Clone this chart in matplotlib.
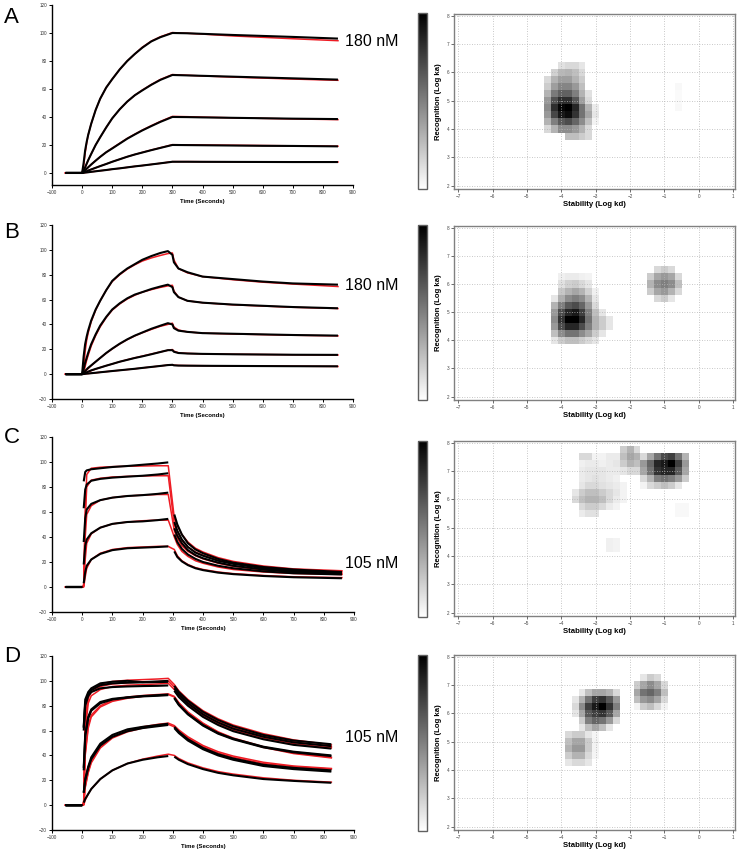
import numpy as np
import matplotlib
matplotlib.use("Agg")
import matplotlib.pyplot as plt

plt.rcParams['font.family'] = ['Liberation Sans', 'DejaVu Sans']

# ---------------- sensorgram data (response units vs time in s) ----------------
# None = gap in the recorded trace
TA = [-55, 0, 5, 10, 15, 20, 30, 45, 60, 80, 100, 125, 150, 175, 200, 230, 260, 300,
      350, 400, 500, 600, 700, 850]
A_DATA = [
    [0, 0, 7, 16, 22, 27, 35, 45, 53, 61, 67, 74, 80, 85, 89.5, 94, 97, 100, 99.8, 99.4, 98.6, 97.9, 97.2, 96],
    [0, 0, 1.5, 4, 6.5, 9, 13.5, 20, 25.5, 32.5, 39, 45.5, 51, 55.5, 59, 63, 66.5, 70, 69.7, 69.4, 68.8, 68.2, 67.6, 66.7],
    [0, 0, 0.8, 2, 3, 4, 6, 8.8, 11.5, 14.8, 17.5, 21, 24.5, 27.5, 30.4, 33.5, 36.5, 40, 39.9, 39.7, 39.4, 39.1, 38.8, 38.5],
    [0, 0, 0.4, 0.8, 1.2, 1.7, 2.5, 3.7, 4.9, 6.4, 8, 9.8, 11.6, 13.2, 14.6, 16.3, 17.9, 20, 19.9, 19.8, 19.6, 19.4, 19.3, 19],
    [0, 0, 0.13, 0.27, 0.4, 0.5, 0.8, 1.2, 1.6, 2.1, 2.7, 3.3, 4, 4.7, 5.3, 6.1, 6.9, 8, 8, 7.95, 7.9, 7.85, 7.8, 7.8],
]
A_FIT = [
    [0, 0, 5, 14, 21, 27, 35, 45, 53, 61, 67, 74, 80, 85, 89.8, 94.2, 97.3, 100.3, 99.8, 99.2, 97.9, 96.9, 95.9, 94.5],
    [0, 0, 1.5, 4, 6.5, 9, 13.5, 20, 25.5, 32.5, 39, 45.5, 51, 55.5, 59.2, 63.2, 66.8, 70.3, 69.8, 69.3, 68.5, 67.8, 67.1, 66.2],
    [0, 0, 0.8, 2, 3, 4, 6, 8.8, 11.5, 14.8, 17.7, 21.2, 24.7, 27.7, 30.6, 33.8, 36.8, 40.4, 40.2, 39.9, 39.4, 39, 38.6, 38.1],
    [0, 0, 0.4, 0.8, 1.2, 1.7, 2.5, 3.7, 4.9, 6.4, 8, 9.8, 11.6, 13.2, 14.7, 16.4, 18, 20.2, 20.1, 20, 19.8, 19.6, 19.4, 19.1],
    [0, 0, 0.13, 0.27, 0.4, 0.5, 0.8, 1.2, 1.6, 2.1, 2.7, 3.3, 4, 4.7, 5.3, 6.1, 6.9, 8.1, 8.1, 8.05, 8, 7.95, 7.9, 7.85],
]

TB = [-55, 0, 5, 10, 15, 20, 30, 45, 60, 80, 100, 125, 150, 175, 200, 230, 260, 285, 300,
      305, 320, 350, 400, 500, 600, 700, 850]
B_DATA = [
    [0, 0, 14, 24, 30, 35, 43, 52, 59, 67.5, 75, 80.5, 85, 88.5, 92, 95, 97.5, 99, 96, 90, 85, 82, 78.5, 76.5, 74.5, 73, 72],
    [0, 0, 4, 9, 13, 17, 24, 32, 39, 46, 52, 57, 61, 64, 66, 68.5, 70.5, 72, 70, 66, 62, 59, 57.5, 56, 55, 54, 53],
    [0, 0, 1, 2.5, 3.8, 5, 7, 10, 13, 17, 20.5, 24.5, 28, 31, 33.5, 36.5, 39, 41, 40, 37, 35, 34, 33, 32.5, 32, 31.5, 31],
    [0, 0, 0.5, 1, 1.5, 2, 3, 4.2, 5.3, 6.8, 8.2, 10, 11.5, 13, 14.3, 16, 17.8, 19.3, 19.3, 18, 17, 16.6, 16.3, 16, 15.8, 15.6, 15.5],
    [0, 0, 0.1, 0.25, 0.4, 0.5, 0.75, 1.1, 1.5, 2, 2.5, 3.1, 3.7, 4.3, 5, 5.8, 6.6, 7.3, 7.5, 7.1, 6.9, 6.8, 6.7, 6.6, 6.5, 6.4, 6.3],
]
B_FIT = [
    [0, 0, 2, 18, 27, 33, 42, 51.5, 59, 67.5, 74.5, 80, 84.5, 88, 91, 93.5, 95.5, 97, 97.5, 92, 85, 81.5, 78.5, 76, 74, 72.5, 70.5],
    [0, 0, 1, 6, 11, 15, 22.5, 31, 38, 45.5, 51.5, 56.5, 60.5, 63.5, 66, 68, 69.8, 71, 71.5, 67, 62, 59, 57.5, 55.8, 54.8, 53.8, 52.8],
    [0, 0, 0.5, 2, 3.3, 4.5, 6.8, 10, 13, 16.8, 20.3, 24.3, 27.8, 30.8, 33.3, 36, 38.5, 40, 41, 38, 35.5, 34, 33, 32.3, 31.8, 31.3, 30.8],
    [0, 0, 0.3, 0.8, 1.3, 1.8, 2.8, 4.1, 5.3, 6.8, 8.2, 10, 11.6, 13.1, 14.5, 16.2, 17.9, 19.2, 19.8, 18.5, 17.2, 16.7, 16.3, 16, 15.8, 15.6, 15.4],
    [0, 0, 0.1, 0.25, 0.4, 0.5, 0.75, 1.1, 1.5, 2, 2.5, 3.1, 3.7, 4.3, 5, 5.8, 6.6, 7.3, 7.6, 7.2, 7, 6.9, 6.8, 6.6, 6.5, 6.4, 6.2],
]

TC = [-55, 0, 2, 5, 10, 15, 30, 60, 100, 150, 200, 250, 285, 295, 305, 315, 330, 350, 375,
      400, 450, 500, 600, 700, 860]
C_DATA = [
    [0, 0, None, 84.5, 92, 93.3, 94.2, 95, 96, 96.8, 97.8, 98.8, 99.7, None, 58, 50, 42, 35, 30, 27, 22.5, 19.5, 16, 14, 12],
    [0, 0, None, 63, 78, 82, 85, 86.5, 87.5, 88.3, 89, 90, 91, None, 52, 45, 38, 32, 27.5, 25, 21, 18.5, 15, 13, 11.5],
    [0, 0, None, 36, 55, 62, 66.5, 69.5, 71.5, 72.8, 73.5, 74.5, 75.5, None, 47, 41, 35, 29.5, 25.5, 23, 19.5, 17, 14, 12, 10.5],
    [0, 0, None, 18, 33, 38, 43, 47.5, 50.5, 52, 52.5, 53.5, 54.5, None, 42, 36, 30.5, 26, 22.5, 20, 17, 15, 12.5, 11, 10],
    [0, 0, None, 3, 12, 17, 22, 26.5, 29.5, 31, 31.5, 32, 32.5, None, 28.5, 24, 20.5, 17.5, 15, 13.5, 11.5, 10.3, 8.8, 7.8, 7],
]
C_FIT = [
    [0, 0, 0, 2, 60, 90, 95, 95.8, 96.3, 96.6, 96.8, 97, 97, 76, 55, 49, 42, 36, 31, 28, 23.5, 20.5, 16.8, 14.5, 13],
    [0, 0, 0, 2, 55, 80, 85.5, 87, 88, 88.5, 88.8, 89, 89, 69.5, 50, 44, 37.5, 32, 28, 25.5, 21.5, 19, 15.5, 13.5, 12],
    [0, 0, 0, 1, 40, 58, 65, 69.5, 71.5, 72.8, 73.5, 74, 74, 59.5, 45, 39, 33, 28.5, 25, 22.5, 19, 16.5, 13.5, 12, 10.5],
    [0, 0, 0, 0.5, 22, 35, 42.5, 47.5, 50.5, 52, 53, 53.5, 53.5, 46.8, 40, 34, 28.5, 24.5, 21, 19, 16, 14, 12, 10.8, 10],
    [0, 0, 0, 0, 8, 15, 22, 27, 30, 31.5, 32, 32.5, 32.5, 31.2, 30, 25, 21, 18, 15.5, 14, 12, 10.7, 9.2, 8.2, 7.5],
]

TD = [-55, 0, 2, 5, 10, 20, 30, 60, 100, 150, 200, 250, 285, 295, 305, 320, 350, 400, 450,
      500, 600, 700, 825]
D_DATA = [
    [0, 0, None, 63, 85, 91, 94, 98, 99.3, 100, 99, 99.5, 100, None, 96, 91, 84, 75, 68.5, 63.5, 56.5, 52, 49],
    [0, 0, None, 62, 82, 89, 92.5, 96.5, 98, 98.5, 98.8, 99, 99.2, None, 94, 89, 82, 73, 66.5, 61.5, 55, 50.5, 47.5],
    [0, 0, None, 60, 80, 88, 91, 94, 95, 95.5, 95.8, 96, 96.3, None, 92, 87, 80, 71, 64.5, 59.5, 53, 48.5, 45.5],
    [0, 0, None, 28, 55, 70, 76, 82, 85, 86.5, 87.5, 88, 88.5, None, 86, 80.5, 73, 64, 57.5, 53, 46.5, 42.5, 39.5],
    [0, 0, None, 30, 57, 71, 77, 83, 85.5, 86.8, 87.8, 88.5, 89, None, 86.5, 81, 73.5, 64.5, 58, 53.5, 47, 43, 40],
    [0, 0, None, 10, 20, 30, 37, 48, 55, 59.5, 62, 63.5, 64.5, None, 62, 58, 52, 45, 40, 36.5, 31.5, 29, 27],
    [0, 0, None, 10, 21, 31, 38.5, 49.5, 56.5, 61, 63, 64.5, 65.5, None, 63, 59, 53, 46, 41, 37.5, 32.5, 30, 28],
    [0, 0, None, 2, 5, 9, 13, 21, 28, 33.5, 36.5, 38.5, 39.5, None, 39, 36.5, 33, 29, 26, 24, 21, 19.5, 18],
]
D_FIT = [
    [0, 0, 0, 3, 68, 88, 93, 97.5, 99.5, 100.5, 101, 101.5, 102, 99.5, 97, 92, 85, 76, 69.5, 64.5, 57.5, 52.5, 48.5],
    [0, 0, 0, 3, 65, 86, 91, 95.5, 97.5, 98.5, 99, 99.5, 100, 97.5, 95, 90, 83, 74, 67.5, 62.5, 55.5, 51, 47],
    [0, 0, 0, 2, 60, 82, 88, 93, 95.5, 96.5, 97, 97.5, 98, 95.5, 93, 88, 81, 72, 65.5, 60.5, 54, 49.5, 46],
    [0, 0, 0, 1, 40, 62, 71, 79, 83.5, 86, 87.5, 88.5, 89, 88, 87, 82, 74.5, 65.5, 58.5, 53.5, 46.5, 41.5, 38],
    [0, 0, 0, 1, 42, 64, 72.5, 80, 84.5, 87, 88.2, 89, 89.5, 88.5, 87.5, 82.5, 75, 66, 59, 54, 47, 42, 38.5],
    [0, 0, 0, 0.5, 14, 26, 34, 46, 54, 59, 62, 64, 65, 64, 63, 59.5, 54, 47, 42, 38.5, 33.5, 31, 29],
    [0, 0, 0, 0.5, 15, 27, 35, 47, 55, 60, 63, 65, 66, 65, 64, 60.5, 55, 48, 43, 39.5, 34.5, 31.5, 29.5],
    [0, 0, 0, 0, 4, 9, 13, 21, 28, 33.5, 37, 39.5, 41, 40.5, 40, 37.5, 34, 30, 27, 25, 22, 20, 18.5],
]

CONC_LABELS = ['180 nM', '180 nM', '105 nM', '105 nM']
PANEL_LETTERS = ['A', 'B', 'C', 'D']

# ---------------- kinetic maps: (left col log kd, top row log ka, rows of intensity) ----------------
MAP_A = [
    (-4.4, 6.25, [[0, 0, 0.12, 0.15, 0.15, 0.1, 0, 0],
                  [0, 0.18, 0.28, 0.3, 0.25, 0.15, 0, 0],
                  [0.15, 0.3, 0.38, 0.38, 0.3, 0.2, 0, 0],
                  [0.2, 0.38, 0.48, 0.48, 0.4, 0.25, 0, 0],
                  [0.3, 0.52, 0.62, 0.62, 0.5, 0.3, 0.12, 0],
                  [0.4, 0.68, 0.82, 0.82, 0.66, 0.38, 0.15, 0],
                  [0.45, 0.82, 0.97, 1.0, 0.85, 0.55, 0.3, 0.08],
                  [0.4, 0.72, 0.9, 0.95, 0.8, 0.55, 0.35, 0.1],
                  [0.3, 0.5, 0.65, 0.7, 0.6, 0.45, 0.25, 0.05],
                  [0.15, 0.3, 0.45, 0.45, 0.4, 0.3, 0.15, 0],
                  [0, 0, 0, 0.25, 0.25, 0.2, 0.15, 0]]),
    (-0.6, 5.5, [[0.03], [0.02], [0.02], [0.03]]),
]
MAP_B = [
    (-4.2, 6.25, [[0, 0.06, 0.08, 0.08, 0.06, 0.05, 0, 0, 0],
                  [0, 0.12, 0.18, 0.2, 0.15, 0.1, 0, 0, 0],
                  [0, 0.22, 0.3, 0.35, 0.3, 0.18, 0.06, 0, 0],
                  [0.1, 0.32, 0.45, 0.5, 0.45, 0.3, 0.1, 0, 0],
                  [0.3, 0.5, 0.65, 0.7, 0.6, 0.4, 0.15, 0, 0],
                  [0.4, 0.7, 0.85, 0.9, 0.75, 0.5, 0.25, 0.1, 0],
                  [0.45, 0.8, 1.0, 1.0, 0.85, 0.55, 0.3, 0.2, 0.1],
                  [0.4, 0.7, 0.85, 0.85, 0.7, 0.5, 0.3, 0.2, 0.1],
                  [0.25, 0.45, 0.55, 0.55, 0.45, 0.35, 0.2, 0.1, 0],
                  [0.1, 0.2, 0.25, 0.25, 0.2, 0.15, 0.1, 0, 0]]),
    (-1.4, 6.5, [[0, 0.15, 0.2, 0.15, 0],
                 [0.2, 0.35, 0.4, 0.35, 0.15],
                 [0.3, 0.45, 0.5, 0.45, 0.25],
                 [0.2, 0.35, 0.4, 0.3, 0.15],
                 [0, 0.15, 0.2, 0.1, 0]]),
]
MAP_C = [
    (-1.6, 7.5, [[0.15, 0.35, 0.55, 0.7, 0.75, 0.55, 0.3],
                 [0.4, 0.6, 0.85, 0.9, 1.0, 0.75, 0.4],
                 [0.35, 0.55, 0.8, 0.85, 0.85, 0.65, 0.35],
                 [0.15, 0.3, 0.5, 0.55, 0.5, 0.4, 0.2],
                 [0.05, 0.15, 0.2, 0.25, 0.2, 0.1, 0]]),
    (-2.2, 7.75, [[0.2, 0.3, 0.15],
                  [0.25, 0.35, 0.3],
                  [0.2, 0.3, 0.25],
                  [0.1, 0.15, 0.15]]),
    (-3.6, 7.5, [[0, 0.15, 0.15, 0.05, 0.05, 0.08, 0.08, 0],
                 [0, 0.06, 0.08, 0.08, 0.06, 0.08, 0.1, 0],
                 [0, 0.08, 0.1, 0.1, 0.1, 0.08, 0.08, 0],
                 [0, 0.08, 0.1, 0.12, 0.1, 0.08, 0.06, 0],
                 [0, 0.1, 0.15, 0.15, 0.12, 0.1, 0.08, 0.05],
                 [0.1, 0.2, 0.25, 0.25, 0.2, 0.15, 0.1, 0.05],
                 [0.15, 0.25, 0.3, 0.3, 0.25, 0.15, 0.08, 0.05],
                 [0, 0.15, 0.2, 0.2, 0.15, 0.08, 0.05, 0],
                 [0, 0.08, 0.12, 0.12, 0, 0, 0, 0]]),
    (-2.6, 4.5, [[0.06, 0.05], [0.06, 0.05]]),
    (-0.6, 5.75, [[0.03, 0.03], [0.03, 0.03]]),
]
MAP_D = [
    (-3.6, 6.75, [[0, 0.1, 0.25, 0.35, 0.35, 0.3, 0.15],
                  [0.1, 0.3, 0.55, 0.75, 0.8, 0.65, 0.4],
                  [0.15, 0.45, 0.75, 0.9, 1.0, 0.8, 0.5],
                  [0.1, 0.35, 0.65, 0.75, 0.8, 0.65, 0.35],
                  [0, 0.2, 0.5, 0.6, 0.55, 0.4, 0.15],
                  [0, 0.1, 0.25, 0.35, 0.25, 0.1, 0]]),
    (-3.8, 5.25, [[0.15, 0.2, 0.2, 0.1, 0.04],
                  [0.25, 0.35, 0.35, 0.2, 0.05],
                  [0.3, 0.4, 0.4, 0.2, 0.05],
                  [0.2, 0.3, 0.3, 0.15, 0.04],
                  [0.1, 0.15, 0.15, 0.1, 0]]),
    (-1.8, 7.25, [[0, 0.1, 0.2, 0.15, 0],
                  [0.2, 0.35, 0.45, 0.35, 0.15],
                  [0.35, 0.55, 0.6, 0.5, 0.25],
                  [0.25, 0.4, 0.45, 0.35, 0.15],
                  [0.05, 0.2, 0.25, 0.15, 0.05]]),
]

KD_CENTERS = np.round(np.arange(-7.0, 1.001, 0.2), 2)
KA_CENTERS = np.round(np.arange(2.0, 8.001, 0.25), 3)

# ---------------- layout (pixel boxes: left, top, right, bottom) ----------------
W, H = 740.0, 852.0


def box(x0, y0, x1, y1):
    return [x0 / W, 1 - y1 / H, (x1 - x0) / W, (y1 - y0) / H]


LEFT_BOXES = [(52, 5, 353, 185), (52, 225, 353, 399), (52, 437, 354, 612), (52, 656, 354, 830)]
MAP_BOXES = [(454, 14, 735, 189), (454, 226, 735, 400), (454, 441, 735, 616), (454, 655, 735, 830)]
CBAR_BOXES = [(418, 13, 427, 189), (418, 225, 427, 400), (418, 441, 427, 617), (418, 655, 427, 831)]
LETTER_BASE = [23, 238, 443, 662]
CONC_BASE = [46, 290, 568, 742]
YLIMS = [(-8.6, 120), (-20, 120), (-20, 120), (-20, 120)]

fig = plt.figure(figsize=(7.4, 8.52), dpi=100)


def sensorgram(ax, t, data, fit, ylim):
    t = np.array(t, dtype=float)
    for f in fit:
        ax.plot(t, np.array(f, dtype=float), color='#ee1c24', lw=1.1, zorder=2)
    for d in data:
        ax.plot(t, np.array(d, dtype=float), color='black', lw=1.5, zorder=3,
                solid_capstyle='butt')
    ax.set_xlim(-100, 900)
    ax.set_ylim(*ylim)
    ax.set_xticks(range(-100, 901, 100))
    ax.set_yticks(range(int(np.ceil(ylim[0] / 20.0)) * 20, 121, 20))
    for s in ['top', 'right']:
        ax.spines[s].set_visible(False)
    for s in ['left', 'bottom']:
        ax.spines[s].set_linewidth(1.0)
    ax.tick_params(direction='out', length=2.2, width=0.7, labelsize=3.3, pad=1.5,
                   labelcolor='#333333')
    ax.set_xlabel('Time (Seconds)', fontsize=4.3, fontweight='bold', labelpad=2.5)


def kinetic_map(ax, cax, blobs):
    z = np.zeros((len(KA_CENTERS), len(KD_CENTERS)))
    for x0, y0, rows in blobs:
        i0 = int(round((y0 - 2.0) / 0.25))
        j0 = int(round((x0 + 7.0) / 0.2))
        for r, row in enumerate(rows):
            seg = z[i0 - r, j0:j0 + len(row)]
            z[i0 - r, j0:j0 + len(row)] = np.maximum(seg, row)
    xe = np.append(KD_CENTERS - 0.1, KD_CENTERS[-1] + 0.1)
    ye = np.append(KA_CENTERS - 0.125, KA_CENTERS[-1] + 0.125)
    mesh = ax.pcolormesh(xe, ye, z, cmap='gray_r', vmin=0, vmax=1, shading='flat')
    ax.set_xlim(-7.12, 1.05)
    ax.set_ylim(1.88, 8.06)
    ax.set_xticks(range(-7, 2))
    ax.set_yticks(range(2, 9))
    ax.grid(True, ls=(0, (1, 2)), color='#b5b5b5', lw=0.6)
    ax.set_axisbelow(False)
    for s in ax.spines.values():
        s.set_edgecolor('#808080')
        s.set_linewidth(1.0)
    ax.tick_params(direction='out', length=2, width=0.6, labelsize=3.3, pad=1.5,
                   colors='#555555', labelcolor='#444444')
    ax.set_xlabel('Stability (Log kd)', fontsize=5.6, fontweight='bold', labelpad=1.5)
    ax.set_ylabel('Recognition (Log ka)', fontsize=5.6, fontweight='bold', labelpad=3)
    cb = fig.colorbar(mesh, cax=cax)
    cb.set_ticks([])
    cb.outline.set_edgecolor('#606060')
    cb.outline.set_linewidth(1.0)


panels = [(TA, A_DATA, A_FIT, MAP_A), (TB, B_DATA, B_FIT, MAP_B),
          (TC, C_DATA, C_FIT, MAP_C), (TD, D_DATA, D_FIT, MAP_D)]

for i, (t, data, fit, blobs) in enumerate(panels):
    ax = fig.add_axes(box(*LEFT_BOXES[i]))
    sensorgram(ax, t, data, fit, YLIMS[i])
    mx = fig.add_axes(box(*MAP_BOXES[i]))
    cx = fig.add_axes(box(*CBAR_BOXES[i]))
    kinetic_map(mx, cx, blobs)
    fig.text(4 / W, 1 - LETTER_BASE[i] / H, PANEL_LETTERS[i], fontsize=16, va='baseline')
    fig.text(345 / W, 1 - CONC_BASE[i] / H, CONC_LABELS[i], fontsize=11.5, va='baseline')

fig.savefig('out.png', dpi=100)
